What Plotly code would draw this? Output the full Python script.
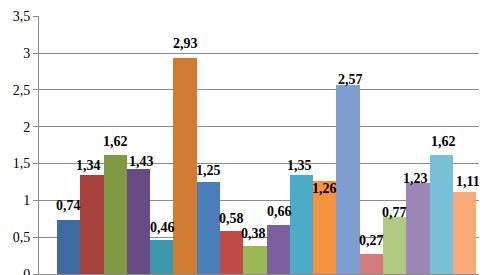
import plotly.graph_objects as go

values = [0.74, 1.34, 1.62, 1.43, 0.46, 2.93, 1.25, 0.58, 0.38,
          0.66, 1.35, 1.26, 2.57, 0.27, 0.77, 1.23, 1.62, 1.11]
colors = ["#3D6AA1", "#A8403C", "#7E9B44", "#674A86", "#3B97AC", "#D07A32",
          "#4A7EBB", "#BE4B48", "#98B954", "#7D5FA0", "#4AACC6", "#F59242",
          "#7E9DD0", "#D47C7B", "#AFCA80", "#9C86B8", "#78C0D8", "#F8AB78"]
# label offsets above bar top (pixels)
label_lift = [14, 10, 13, 7, 13, 15, 11, 13, 13, 14, 9, -7, 5, 14, 5, 5, 13, 11]
label_dx = [0, -3, 0, 3, 1, 0, 0, 0, -1, 1, -2, 0, 2, 0, 0, -2, 2, 4]
y_ticks = [0, 0.5, 1, 1.5, 2, 2.5, 3, 3.5]

SERIF = "Liberation Serif"

xs = list(range(len(values)))
fig = go.Figure(go.Bar(x=xs, y=values, marker=dict(color=colors, line=dict(width=0)),
                       width=1.0, hoverinfo="skip"))

for i, v in enumerate(values):
    fig.add_annotation(x=i, y=v, text="<b>" + f"{v:.2f}".replace(".", ",") + "</b>",
                       showarrow=False, yanchor="middle", yshift=label_lift[i],
                       xshift=label_dx[i],
                       font=dict(family=SERIF, size=14, color="#000"))

pad = 0.77
fig.update_layout(
    width=487, height=275,
    margin=dict(l=31, r=1, t=6, b=9),
    paper_bgcolor="white", plot_bgcolor="white",
    font=dict(family=SERIF, color="#000"),
    separators=", ",
    showlegend=False,
    bargap=0,
    xaxis=dict(range=[-0.5 - pad, len(values) - 0.5 + pad], showgrid=False,
               zeroline=False, showline=True, linecolor="#8c8c8c", linewidth=1,
               tickvals=[-0.5 - pad, len(values) - 0.5 + pad], ticktext=["", ""],
               ticks="outside", ticklen=6, tickcolor="#8c8c8c"),
    yaxis=dict(range=[0, 3.503], tickvals=y_ticks,
               ticktext=[f"{t:g}".replace(".", ",") for t in y_ticks],
               ticklabeloverflow="allow",
               showgrid=True, gridcolor="#8c8c8c", gridwidth=1,
               zeroline=False, showline=True, linecolor="#8c8c8c", linewidth=1,
               ticks="outside", ticklen=5, tickcolor="#8c8c8c",
               tickfont=dict(family=SERIF, size=14, color="#000")),
)

fig.write_html("out.html")
